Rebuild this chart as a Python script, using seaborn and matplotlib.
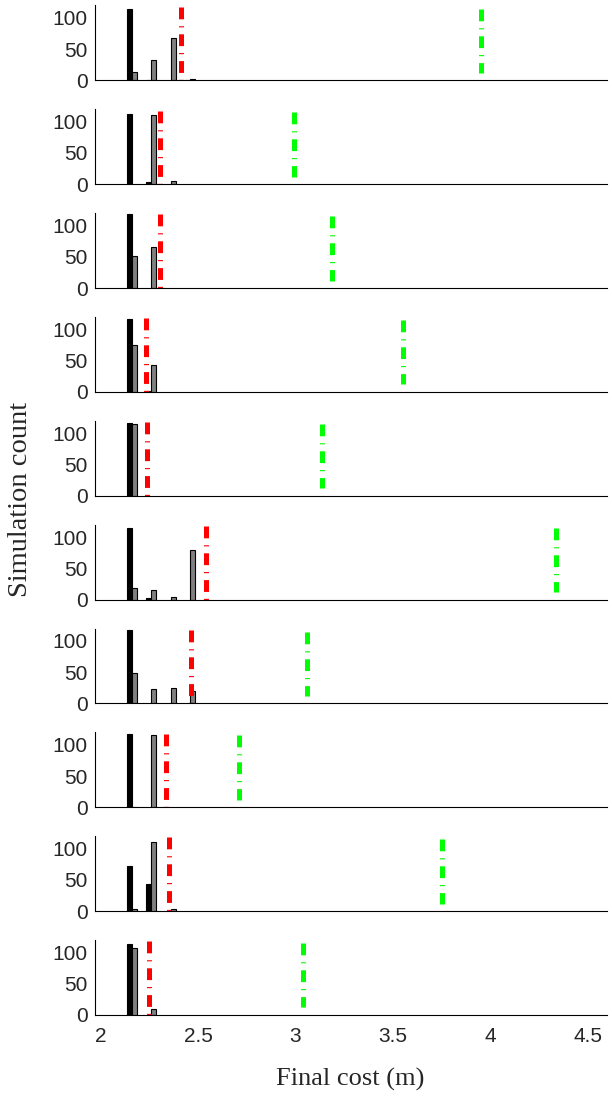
import matplotlib
matplotlib.use("Agg")
import matplotlib.pyplot as plt
import seaborn as sns
import pandas as pd

bins = [2.16, 2.26, 2.36, 2.46]

black_counts = [
    [114, 1, 0, 1],
    [112, 4, 0, 0],
    [118, 0, 0, 0],
    [116, 1, 0, 0],
    [116, 0, 0, 0],
    [114, 3, 0, 0],
    [117, 0, 0, 0],
    [117, 0, 0, 0],
    [73, 44, 0, 0],
    [114, 0, 0, 0],
]
gray_counts = [
    [13, 32, 68, 2],
    [0, 111, 5, 0],
    [52, 66, 0, 0],
    [75, 43, 0, 0],
    [115, 0, 0, 0],
    [19, 15, 4, 79],
    [48, 23, 25, 20],
    [1, 115, 0, 0],
    [3, 110, 4, 0],
    [107, 9, 0, 0],
]
red_lines = [2.414, 2.305, 2.305, 2.235, 2.24, 2.543, 2.465, 2.334, 2.353, 2.246]
green_lines = [3.95, 2.99, 3.19, 3.55, 3.135, 4.34, 3.06, 2.71, 3.75, 3.04]

xticks = [2, 2.5, 3, 3.5, 4, 4.5]
xtick_labels = ["2", "2.5", "3", "3.5", "4", "4.5"]
yticks = [0, 50, 100]

sns.set_style("white")
plt.rcParams["font.family"] = ["Liberation Sans", "DejaVu Sans"]
plt.rcParams["lines.scale_dashes"] = False

fig, axes = plt.subplots(10, 1, figsize=(6.12, 10.96), dpi=100, sharex=True)
fig.subplots_adjust(left=0.155, right=0.992, bottom=0.074, top=0.995, hspace=0.387)

for i, ax in enumerate(axes):
    df = pd.DataFrame({
        "cost": bins * 2,
        "count": black_counts[i] + gray_counts[i],
        "method": ["A"] * len(bins) + ["B"] * len(bins),
    })
    sns.barplot(data=df, x="cost", y="count", hue="method", native_scale=True,
                palette=["black", "#808080"], width=0.5, dodge=True,
                edgecolor="black", linewidth=0.8, ax=ax, legend=False, errorbar=None)
    for p in ax.patches:
        if p.get_height() == 0:
            p.set_visible(False)
    ax.plot([red_lines[i], red_lines[i]], [118, 0], color="#ff0000", lw=3.6,
            dashes=(8.5, 5, 0.8, 5), solid_capstyle="butt", dash_capstyle="butt")
    ax.plot([green_lines[i], green_lines[i]], [115, 12], color="#00ff00", lw=3.6,
            dashes=(8.5, 5, 0.8, 5), solid_capstyle="butt", dash_capstyle="butt")
    ax.set_xlim(1.97, 4.60)
    ax.set_ylim(0, 120)
    ax.set_yticks(yticks)
    ax.set_xticks(xticks)
    ax.set_xticklabels(xtick_labels)
    ax.tick_params(axis="both", direction="in", length=4, width=0.8, labelsize=15,
                   color="black", pad=5)
    ax.tick_params(axis="x", pad=9, labelbottom=(i == 9))
    ax.set_xlabel("")
    ax.set_ylabel("")
    for s in ["top", "right"]:
        ax.spines[s].set_visible(False)
    for s in ["left", "bottom"]:
        ax.spines[s].set_color("black")
        ax.spines[s].set_linewidth(0.8)

fig.text(0.034, 0.544, "Simulation count", rotation=90, ha="center", va="center",
         family=["Liberation Serif"], fontsize=20.5)
fig.text(0.572, 0.015, "Final cost (m)", ha="center", va="center",
         family=["Liberation Serif"], fontsize=19)

fig.savefig("out.png", dpi=100)
